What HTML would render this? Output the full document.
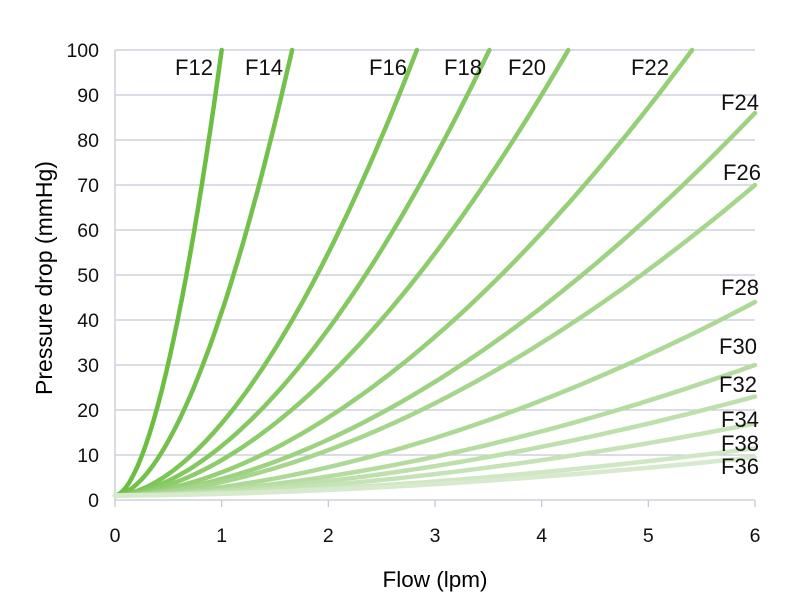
<!DOCTYPE html><html><head><style>body{margin:0;background:#fff}svg{display:block;font-family:"Liberation Sans",sans-serif}</style></head><body>
<svg id="s" width="800" height="600" xmlns="http://www.w3.org/2000/svg">
<g id="grid" stroke="#c5c8d6" stroke-width="1.3"></g>
<g id="curves" fill="none" stroke-linecap="round"></g>
<g id="lbl" font-size="19.5" fill="#111"></g>
<g id="cl" font-size="22" fill="#111"></g>
<text x="435" y="587" font-size="22.5" text-anchor="middle">Flow (lpm)</text>
<text transform="translate(52,278) rotate(-90)" font-size="23" text-anchor="middle">Pressure drop (mmHg)</text>
</svg>
<script>
var NS="http://www.w3.org/2000/svg";
function el(p,t,a,txt){var e=document.createElementNS(NS,t);for(var k in a)e.setAttribute(k,a[k]);if(txt!=null)e.textContent=txt;document.getElementById(p).appendChild(e);}
var X=function(f){return 115+f*106.67},Y=function(p){return 500-p*4.5};
for(var i=0;i<=10;i++){var y=Y(i*10);if(i>0)el("grid","line",{x1:115,x2:755,y1:y,y2:y});el("lbl","text",{x:99,y:y+7,"text-anchor":"end"},String(i*10));}
el("grid","line",{x1:115,x2:115,y1:50,y2:500});
el("grid","line",{x1:115,x2:755,y1:500,y2:500});
for(var i=0;i<=6;i++){el("grid","line",{x1:X(i),x2:X(i),y1:500,y2:507});el("lbl","text",{x:X(i),y:542,"text-anchor":"middle"},String(i));}
var n=1.75;
var C=[["F12",1.0,null,194,75],["F14",1.66,null,264,75],["F16",2.83,null,388,75],["F18",3.51,null,463,75],["F20",4.25,null,527,75],["F22",5.41,null,650,75],
["F24",null,86,740,110],["F26",null,70,742,180],["F28",null,44,740,295],["F30",null,30,738,354],["F32",null,23,738,392],["F34",null,17,740,427],["F38",null,11.5,740,451],["F36",null,9.5,740,474]];
C.forEach(function(c,i){var k,fm;if(c[1]){fm=c[1];k=99/Math.pow(fm,n);}else{fm=6;k=(c[2]-1)/Math.pow(6,n);}
var t=i/(C.length-1);var r=Math.round(107+(215-107)*t),g=Math.round(190+(234-190)*t),b=Math.round(64+(205-64)*t);
var d="";for(var j=0;j<=80;j++){var f=fm*j/80;d+=(j?"L":"M")+X(f).toFixed(1)+" "+Y(1+k*Math.pow(f,n)).toFixed(1);}
el("curves","path",{d:d,stroke:"rgb("+r+","+g+","+b+")","stroke-width":4.5});
el("cl","text",{x:c[3],y:c[4],"text-anchor":"middle"},c[0]);});
</script></body></html>
